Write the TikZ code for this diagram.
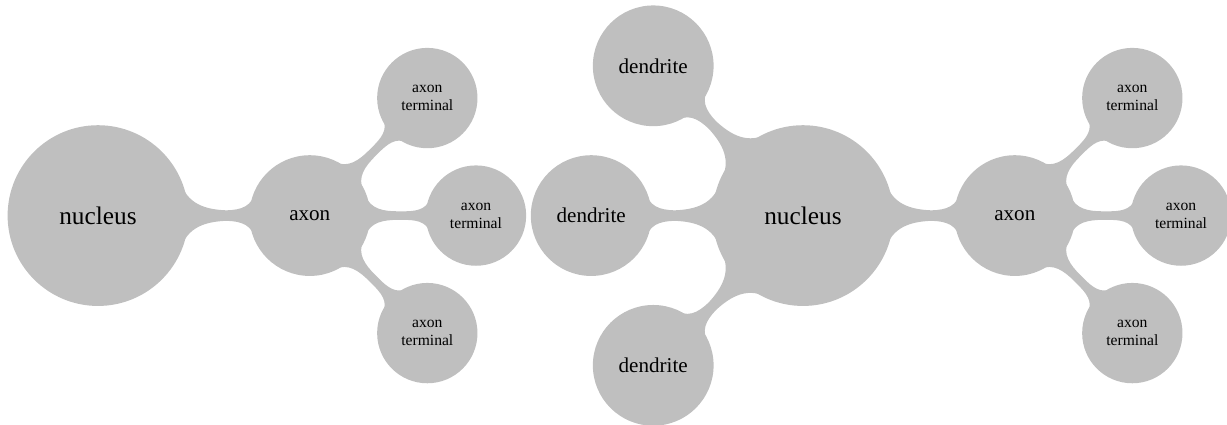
\documentclass[tikz,border=0pt]{standalone}
\usepackage{fontspec}
\setmainfont{Liberation Serif}
\usetikzlibrary{mindmap}

\tikzset{
  soma/.style={concept,minimum size=2.97cm,text width=2.4cm,font=\large},
  branch/.style={concept,minimum size=1.97cm,text width=1.6cm,font=\normalsize},
  tip/.style={concept,minimum size=1.63cm,text width=1.3cm,font=\fontsize{7.4}{8.6}\selectfont}
}

\begin{document}
\begin{tikzpicture}[mindmap,concept color=black!25,text=black,
    level 1/.append style={level distance=3.53cm},
    level 2/.append style={level distance=2.77cm}]
  \useasboundingbox (0,0) rectangle (20.45,7.083);

  % neuron without dendrites
  \node[soma] (nuc1) at (1.633,3.49) {nucleus}
    child[grow=0] {node[branch] (axon1) {axon}
      child[grow=45] {node[tip] (term11) {axon\\terminal}}
      child[grow=0] {node[tip] (term12) {axon\\terminal}}
      child[grow=-45] {node[tip] (term13) {axon\\terminal}}};

  % neuron with dendrites
  \node[soma] (nuc2) at (13.383,3.49) {nucleus}
    child[grow=135] {node[branch] (dend1) {dendrite}}
    child[grow=180] {node[branch] (dend2) {dendrite}}
    child[grow=225] {node[branch] (dend3) {dendrite}}
    child[grow=0] {node[branch] (axon2) {axon}
      child[grow=45] {node[tip] (term21) {axon\\terminal}}
      child[grow=0] {node[tip] (term22) {axon\\terminal}}
      child[grow=-45] {node[tip] (term23) {axon\\terminal}}};
\end{tikzpicture}
\end{document}
